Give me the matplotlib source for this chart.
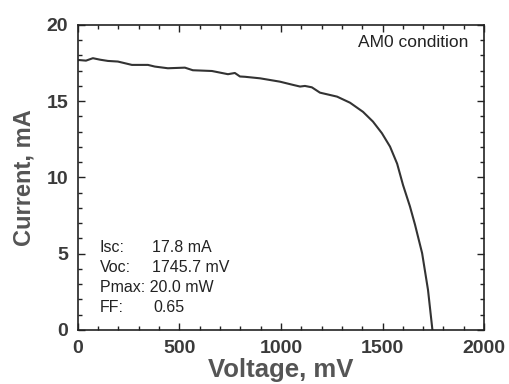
#!/usr/bin/env python3

import matplotlib
matplotlib.use("Agg")
import matplotlib.pyplot as plt
from matplotlib.ticker import MultipleLocator

# I-V curve (mV, mA)
voltage = [0, 5, 40, 74, 110, 148, 197, 266, 345, 379, 443, 527, 566, 660, 739,
           773, 798, 823, 897, 995, 1059, 1094, 1118, 1152, 1192, 1276, 1340,
           1404, 1453, 1497, 1537, 1572, 1601, 1635, 1660, 1695, 1724, 1745.7]
current = [17.68, 17.7, 17.66, 17.82, 17.72, 17.64, 17.6, 17.38, 17.38, 17.27,
           17.16, 17.2, 17.03, 16.98, 16.77, 16.85, 16.62, 16.6, 16.5, 16.28,
           16.07, 15.96, 16.0, 15.91, 15.56, 15.3, 14.9, 14.3, 13.66, 12.9,
           12.02, 10.9, 9.5, 8.1, 6.9, 5.03, 2.62, 0.0]

param_names = ["Isc:", "Voc:", "", "FF:"]
param_values = ["17.8 mA", "1745.7 mV", "", "0.65"]
pmax_text = "Pmax: 20.0 mW"
condition = "AM0 condition"

plt.rcParams["font.family"] = ["Liberation Sans", "DejaVu Sans"]

fig = plt.figure(figsize=(5.09, 3.84), dpi=100)
ax = fig.add_axes([0.153, 0.141, 0.798, 0.794])

ax.plot(voltage, current, color="#333333", linewidth=1.5)

ax.set_xlim(0, 2000)
ax.set_ylim(0, 20)
ax.xaxis.set_major_locator(MultipleLocator(500))
ax.xaxis.set_minor_locator(MultipleLocator(100))
ax.yaxis.set_major_locator(MultipleLocator(5))
ax.yaxis.set_minor_locator(MultipleLocator(1))
ax.tick_params(which="both", direction="in", top=True, right=True,
               colors="#222222", width=1)
ax.tick_params(which="major", length=5, pad=7, labelsize=14)
ax.tick_params(which="minor", length=3)
for lbl in ax.get_xticklabels() + ax.get_yticklabels():
    lbl.set_fontweight("bold")
    lbl.set_color("#3a3a3a")
for sp in ax.spines.values():
    sp.set_linewidth(1.2)
    sp.set_color("#222222")

ax.set_xlabel("Voltage, mV", fontsize=18.5, fontweight="bold", color="#555555", labelpad=1)
ax.set_ylabel("Current, mA", fontsize=17, fontweight="bold", color="#555555", labelpad=8)

# parameter box in lower left
ys = [0.269, 0.203, 0.138, 0.072]
for i, y in enumerate(ys):
    if param_names[i]:
        ax.text(0.054, y, param_names[i], transform=ax.transAxes, fontsize=11.5,
                va="center", color="#222222")
        xv = 0.187 if param_names[i] == "FF:" else 0.182
        ax.text(xv, y, param_values[i], transform=ax.transAxes, fontsize=11.5,
                va="center", color="#222222")
    else:
        ax.text(0.054, y, pmax_text, transform=ax.transAxes, fontsize=11.5,
                va="center", color="#222222")

ax.text(0.961, 0.944, condition, transform=ax.transAxes, fontsize=12.5,
        ha="right", va="center", color="#222222")

plt.savefig("out.png", dpi=100)
